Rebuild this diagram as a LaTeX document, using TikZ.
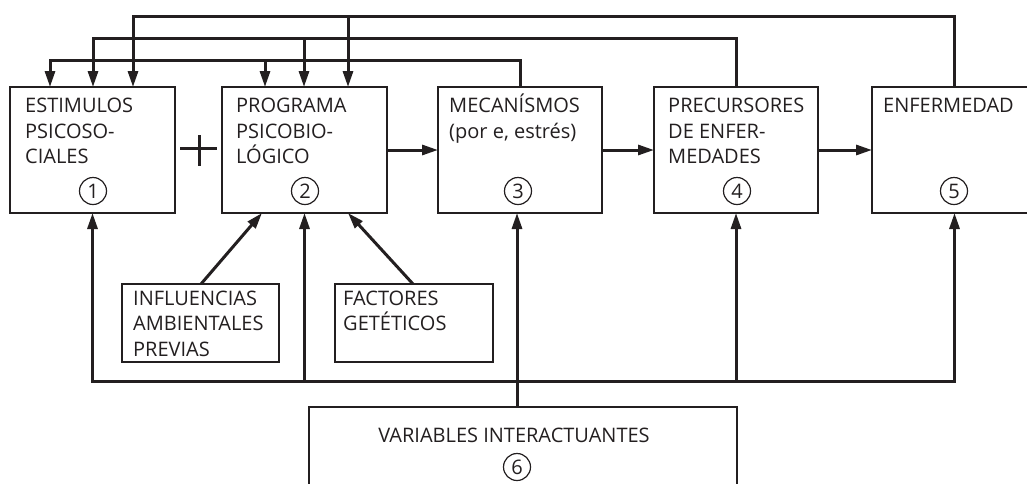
\documentclass[tikz,border=0pt]{standalone}
\usepackage{fontspec}
\setmainfont{Open Sans}
\usetikzlibrary{arrows.meta}
\definecolor{ink}{HTML}{231F20}
\newcommand\dfont{\fontsize{20}{25.5}\selectfont}
\newcommand\tst{\rule{0pt}{20pt}}
\begin{document}
\begin{tikzpicture}[x=1pt,y=-1pt,
  box/.style={draw=ink,line width=1.5pt,minimum width=165pt,minimum height=126pt,inner sep=0pt,outer sep=0pt,anchor=north west},
  lbl/.style={anchor=north west,inner sep=0pt,align=left,font=\dfont,text=ink},
  num/.style={draw=ink,circle,line width=1.2pt,minimum size=27pt,inner sep=0pt,font=\dfont,text=ink},
  conn/.style={draw=ink,line width=3pt},
  arr/.style={conn,-{Triangle[length=16pt,width=10pt]}},
  arrb/.style={conn,{Triangle[length=16pt,width=10pt]}-{Triangle[length=16pt,width=10pt]}}]
\useasboundingbox[fill=white] (0,0) rectangle (1027,483);
% boxes
\node[box] (b1) at (10,87) {};
\node[box,minimum width=165pt] (b2) at (222,87) {};
\node[box,minimum width=164pt] (b3) at (438,87) {};
\node[box,minimum width=164pt] (b4) at (654,87) {};
\node[box] (b5) at (872,87) {};
\node[box,minimum width=157pt,minimum height=78pt] (inf) at (122,284) {};
\node[box,minimum width=158pt,minimum height=78pt] (fac) at (335,284) {};
\node[box,minimum width=428pt,minimum height=100pt] (b6) at (309,407) {};
% labels
\node[lbl] (t1) at (25,92.5) {\tst ESTIMULOS\\PSICOSO-\\CIALES};
\node[lbl] (t2) at (236,92.5) {\tst PROGRAMA\\PSICOBIO-\\LÓGICO};
\node[lbl] (t3) at (449,92.5) {\tst MECANÍSMOS\\(por e, estrés)};
\node[lbl] (t4) at (668,92.5) {\tst PRECURSORES\\DE ENFER-\\MEDADES};
\node[lbl] (t5) at (883,92.5) {\tst ENFERMEDAD};
\node[lbl] (ti) at (133,285) {\tst INFLUENCIAS\\AMBIENTALES\\PREVIAS};
\node[lbl] (tf) at (343,285) {\tst FACTORES\\GETÉTICOS};
\node[font=\dfont,text=ink,anchor=base,inner sep=0pt] (t6) at (514,442) {VARIABLES INTERACTUANTES};
% numbers
\node[num] (n1) at (93,191) {1};
\node[num] (n2) at (305,191) {2};
\node[num] (n3) at (518,191) {3};
\node[num] (n4) at (737,191) {4};
\node[num] (n5) at (954,191) {5};
\node[num] (n6) at (517,467) {6};
% plus sign
\draw[conn] (180,148) -- (217,148);
\draw[conn] (199,135) -- (199,166);
% forward arrows
\draw[arr] (b2.east) -- (b3.west);
\draw[arr] (b3.east) -- (b4.west);
\draw[arr] (b4.east) -- (b5.west);
% top feedback lines
\coordinate (cA1) at (133,16);
\coordinate (cA2) at (348,16);
\coordinate (cB1) at (93,38);
\coordinate (cB2) at (304,38);
\coordinate (cC1) at (50,60);
\coordinate (cC2) at (265,60);
\draw[arr] (b5.north) |- (cA1) -- (cA1 |- b1.north);
\draw[arr] (cA2) -- (cA2 |- b2.north);
\draw[arr] (b4.north) |- (cB1) -- (cB1 |- b1.north);
\draw[arr] (cB2) -- (cB2 |- b2.north);
\draw[arr] (b3.north) |- (cC1) -- (cC1 |- b1.north);
\draw[arr] (cC2) -- (cC2 |- b2.north);
% bottom bus
\coordinate (busy) at (0,381);
\coordinate (v3) at (517,0);
\draw[arrb] (b5.south) |- (b1.south |- busy) -- (b1.south);
\draw[arr] (b2.south |- busy) -- (b2.south);
\draw[arr] (b4.south |- busy) -- (b4.south);
\draw[arr] (b6.north -| v3) -- (b3.south -| v3);
% diagonal influences
\coordinate (sIn) at (201,0);
\coordinate (eIn) at (262,0);
\coordinate (sFa) at (413,0);
\coordinate (eFa) at (348,0);
\draw[arr] (inf.north -| sIn) -- (b2.south -| eIn);
\draw[arr] (fac.north -| sFa) -- (b2.south -| eFa);
\end{tikzpicture}
\end{document}
